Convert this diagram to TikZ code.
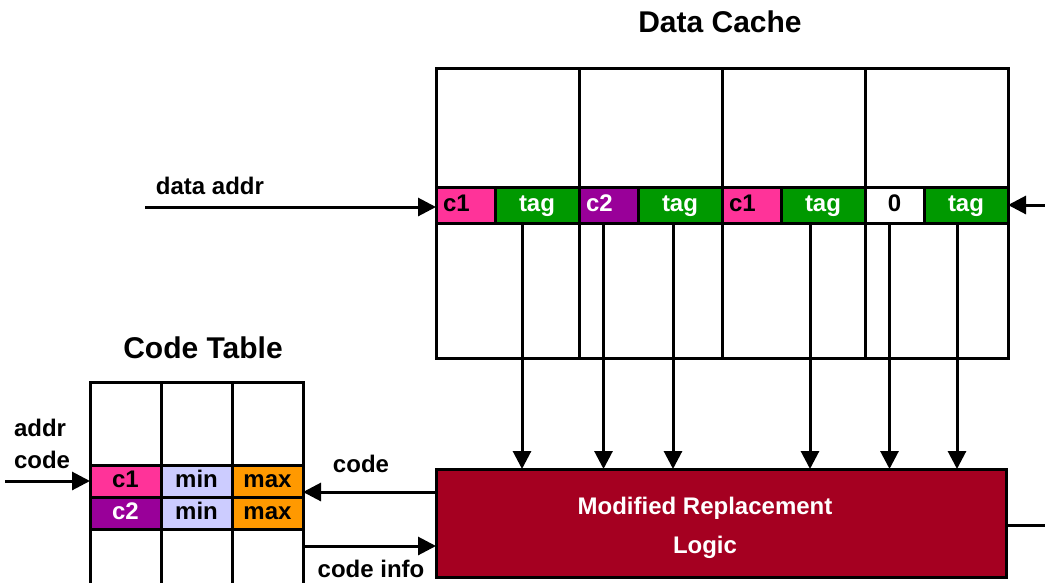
\documentclass[tikz,border=0pt]{standalone}
\usepackage{fontspec}
\setmainfont{Liberation Sans}
\usetikzlibrary{arrows.meta,positioning,calc}
\definecolor{cpink}{HTML}{FF3399}
\definecolor{cpurple}{HTML}{990099}
\definecolor{cgreen}{HTML}{009900}
\definecolor{clav}{HTML}{CCCCFF}
\definecolor{corange}{HTML}{FF9900}
\definecolor{cred}{HTML}{A50021}

\begin{document}
\begin{tikzpicture}[x=1pt,y=-1pt,
  every node/.style={font=\bfseries\fontsize{24}{28}\selectfont,inner sep=0pt,outer sep=0pt},
  colbox/.style={draw,line width=3pt,anchor=north west,minimum width=143pt,minimum height=290pt},
  cellbox/.style={draw,line width=3pt,anchor=north west,minimum height=36pt,text height=17pt,text depth=4pt},
  keycell/.style={cellbox,minimum width=59pt,text width=45pt,align=left},
  tagcell/.style={cellbox,minimum width=84pt,fill=cgreen,text=white},
  tabcol/.style={draw,line width=3pt,anchor=north west,minimum width=71pt,minimum height=215pt},
  tabcell/.style={cellbox,minimum width=71pt,minimum height=32pt},
  arr/.style={line width=3pt,-{Triangle[length=18pt,width=18pt]}},
  title/.style={font=\bfseries\fontsize{30}{36}\selectfont}]
\useasboundingbox (0,0) rectangle (1045,582);

% data cache
\node[title] (dctitle) at (720,22) {Data Cache};
\foreach \i in {0,...,3}
  \node[colbox] (dc\i) at (436+143*\i,68) {};
\node[keycell,fill=cpink] (k0) at (436,187) {c1};
\node[tagcell,right=0pt of k0] (t0) {tag};
\node[keycell,fill=cpurple,text=white] (k1) at (579,187) {c2};
\node[tagcell,right=0pt of k1] (t1) {tag};
\node[keycell,fill=cpink] (k2) at (722,187) {c1};
\node[tagcell,right=0pt of k2] (t2) {tag};
\node[cellbox,minimum width=59pt,fill=white] (k3) at (865,187) {0};
\node[tagcell,right=0pt of k3] (t3) {tag};

% replacement logic
\node[draw,line width=3pt,fill=cred,anchor=north west,
  minimum width=570pt,minimum height=108pt] (logic) at (436,469) {};
\node[text=white,align=center,font=\bfseries\fontsize{24}{39}\selectfont]
  (logictext) at (705,528) {Modified Replacement\\Logic};

\foreach \n/\dx in {t0/-15,k1/-5,t1/-7,t2/-13,k3/-5,t3/-9}
  \draw[arr] ([xshift=\dx pt]\n.south) -- ([xshift=\dx pt]\n.south |- logic.north);

\node (daddr) at (210,186) {data addr};
\coordinate (inL) at (145,207);
\draw[arr] (inL) -- (k0.west |- inL);
\coordinate (inR) at (1045,205);
\draw[arr] (inR) -- (dc3.east |- inR);
\coordinate (outR) at (1045,525);
\draw[line width=3pt] (logic.east |- outR) -- (outR);

% code table
\node[title] (cttitle) at (203,348) {Code Table};
\foreach \i in {0,1,2}
  \node[tabcol] (ct\i) at (90+71*\i,382) {};
\node[tabcell,fill=cpink] (ca1) at (90,465) {c1};
\node[tabcell,fill=clav,right=0pt of ca1] (cb1) {min};
\node[tabcell,fill=corange,right=0pt of cb1] (cc1) {max};
\node[tabcell,fill=cpurple,text=white] (ca2) at (90,497) {c2};
\node[tabcell,fill=clav,right=0pt of ca2] (cb2) {min};
\node[tabcell,fill=corange,right=0pt of cb2] (cc2) {max};

\node[align=left,anchor=west,font=\bfseries\fontsize{24}{32}\selectfont] (addr) at (14,444) {addr\\code};
\coordinate (addrIn) at (5,481);
\draw[arr] (addrIn) -- (ca1.west);

\coordinate (codeY) at (0,492);
\coordinate (infoY) at (0,546);
\draw[arr] (logic.west |- codeY) -- (cc1.east |- codeY);
\node (codelbl) at (361,464) {code};
\draw[arr] (ct2.east |- infoY) -- (logic.west |- infoY);
\node (infolbl) at (371,569) {code info};
\end{tikzpicture}
\end{document}
